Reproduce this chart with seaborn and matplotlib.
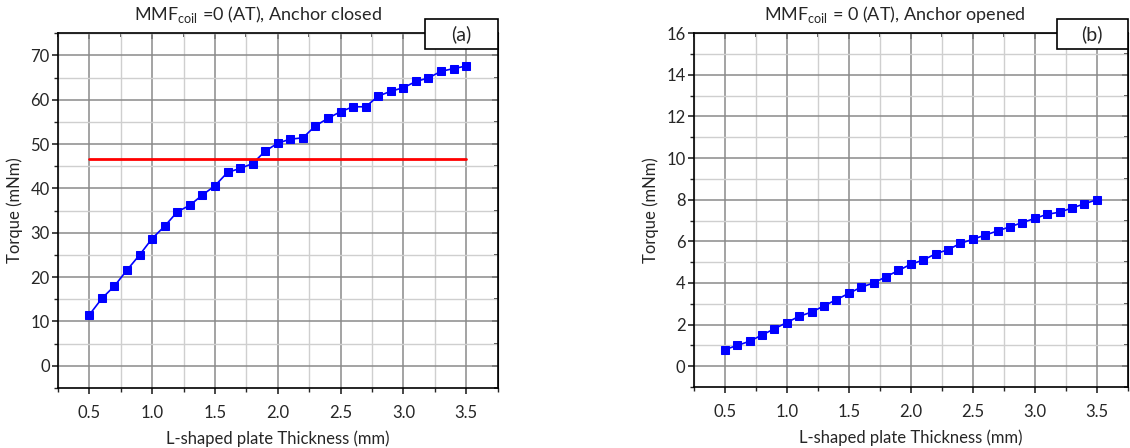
import numpy as np
import pandas as pd
import matplotlib
matplotlib.use("Agg")
import matplotlib.pyplot as plt
import seaborn as sns
from matplotlib.ticker import MultipleLocator
from matplotlib.patches import Rectangle

thickness = [0.5, 0.6, 0.7, 0.8, 0.9, 1.0, 1.1, 1.2, 1.3, 1.4, 1.5,
             1.6, 1.7, 1.8, 1.9, 2.0, 2.1, 2.2, 2.3, 2.4, 2.5,
             2.6, 2.7, 2.8, 2.9, 3.0, 3.1, 3.2, 3.3, 3.4, 3.5]
torque_closed = [11.5, 15.2, 18.0, 21.6, 25.0, 28.7, 31.5, 34.7, 36.2, 38.5, 40.6,
                 43.6, 44.5, 45.6, 48.4, 50.2, 51.1, 51.4, 54.1, 55.8, 57.3,
                 58.4, 58.4, 60.8, 61.9, 62.7, 64.1, 64.9, 66.4, 67.0, 67.6]
torque_opened = [0.8, 1.0, 1.2, 1.5, 1.8, 2.1, 2.4, 2.6, 2.9, 3.2, 3.5,
                 3.8, 4.0, 4.3, 4.6, 4.9, 5.1, 5.4, 5.6, 5.9, 6.1,
                 6.3, 6.5, 6.7, 6.9, 7.1, 7.3, 7.4, 7.6, 7.8, 8.0]
required_torque = 46.6
req_span = [0.5, 3.5]

sns.set_style("white")
plt.rcParams['font.family'] = ['Lato', 'DejaVu Sans']
plt.rcParams['mathtext.fontset'] = 'custom'
plt.rcParams['mathtext.rm'] = 'Lato'

df = pd.DataFrame({"x": thickness, "closed": torque_closed, "opened": torque_opened})

fig = plt.figure(figsize=(11.3, 4.48), dpi=100)
ax1 = fig.add_axes([0.0513, 0.134, 0.389, 0.792])
ax2 = fig.add_axes([0.614, 0.136, 0.384, 0.790])


def style_axes(ax, ylim, ymaj, ymin):
    ax.set_xlim(0.25, 3.75)
    ax.set_ylim(*ylim)
    ax.xaxis.set_major_locator(MultipleLocator(0.5))
    ax.xaxis.set_minor_locator(MultipleLocator(0.25))
    ax.yaxis.set_major_locator(MultipleLocator(ymaj))
    ax.yaxis.set_minor_locator(MultipleLocator(ymin))
    ax.xaxis.set_major_formatter(matplotlib.ticker.FormatStrFormatter('%.1f'))
    ax.grid(which='major', color='#8a8a8a', linewidth=1.1)
    ax.grid(which='minor', color='#cfcfcf', linewidth=1.0)
    ax.set_axisbelow(True)
    for s in ax.spines.values():
        s.set_color('black')
        s.set_linewidth(1.2)
    ax.tick_params(which='major', direction='out', length=4, width=1.2,
                   labelsize=12, left=True, bottom=True, pad=2)
    ax.tick_params(axis='x', which='major', pad=8)
    ax.tick_params(which='minor', direction='out', length=3, width=1.0,
                   left=True, bottom=True)
    top = ax.secondary_xaxis('top')
    top.xaxis.set_major_locator(MultipleLocator(0.5))
    top.xaxis.set_minor_locator(MultipleLocator(0.25))
    top.tick_params(which='both', direction='in', labeltop=False, width=1.2)
    top.tick_params(which='major', length=4)
    top.tick_params(which='minor', length=3)
    right = ax.secondary_yaxis('right')
    right.yaxis.set_major_locator(MultipleLocator(ymaj))
    right.yaxis.set_minor_locator(MultipleLocator(ymin))
    right.tick_params(which='both', direction='in', labelright=False, width=1.2)
    right.tick_params(which='major', length=4)
    right.tick_params(which='minor', length=3)
    ax.set_xlabel("L-shaped plate Thickness (mm)", fontsize=12, labelpad=7)
    ax.set_ylabel("Torque (mNm)", fontsize=12, labelpad=5)


sns.lineplot(data=df, x="x", y="closed", ax=ax1, color='blue', marker='s',
             markersize=5.3, markeredgecolor='blue', linewidth=1.2)
ax1.plot(req_span, [required_torque, required_torque], color='red', linewidth=2)
style_axes(ax1, (-5, 75), 10, 5)

sns.lineplot(data=df, x="x", y="opened", ax=ax2, color='blue', marker='s',
             markersize=5.3, markeredgecolor='blue', linewidth=1.2)
style_axes(ax2, (-1, 16), 2, 1)

ax1.text(0.455, 1.022, r"MMF$_{\rm coil}$ =0 (AT), Anchor closed", transform=ax1.transAxes,
         ha='center', va='bottom', fontsize=13)
ax2.text(0.463, 1.022, r"MMF$_{\rm coil}$ = 0 (AT), Anchor opened", transform=ax2.transAxes,
         ha='center', va='bottom', fontsize=13)

for ax, lab in [(ax1, "(a)"), (ax2, "(b)")]:
    ax.add_patch(Rectangle((0.836, 0.955), 0.164, 0.085, transform=ax.transAxes,
                           facecolor='white', edgecolor='black', linewidth=1.2,
                           clip_on=False, zorder=10))
    ax.text(0.918, 0.997, lab, transform=ax.transAxes, ha='center', va='center',
            fontsize=14, zorder=11)

fig.savefig("out.png", dpi=100)
